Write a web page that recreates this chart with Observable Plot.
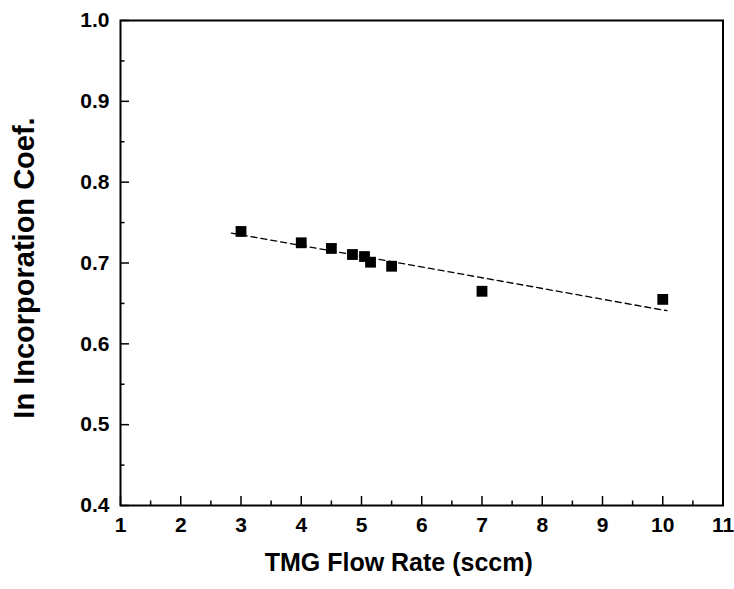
<!DOCTYPE html>
<html>
<head>
<meta charset="utf-8">
<script src="https://cdn.jsdelivr.net/npm/d3@7"></script>
<script src="https://cdn.jsdelivr.net/npm/@observablehq/plot@0.6"></script>
<style>
  html, body { margin: 0; padding: 0; background: #fff; }
  svg { font-family: "Liberation Sans", Arial, sans-serif; }
</style>
</head>
<body>
<div id="chart"></div>
<script>
// Measured data (TMG flow rate, In incorporation coefficient)
const flowRate = [3, 4, 4.5, 4.85, 5.05, 5.15, 5.5, 7, 10];
const inCoef   = [0.739, 0.725, 0.718, 0.7105, 0.708, 0.701, 0.696, 0.665, 0.655];

// Dashed fit line end points
const fitX = [2.84, 10.07];
const fitY = [0.737, 0.641];

// Axis ticks
const xMajor = [1, 2, 3, 4, 5, 6, 7, 8, 9, 10, 11];
const xMinor = [1.5, 2.5, 3.5, 4.5, 5.5, 6.5, 7.5, 8.5, 9.5, 10.5];
const yMajor = [0.4, 0.5, 0.6, 0.7, 0.8, 0.9, 1.0];
const yMinor = [0.45, 0.55, 0.65, 0.75, 0.85, 0.95];

const xTitle = "TMG Flow Rate (sccm)";
const yTitle = "In Incorporation Coef.";

const points = flowRate.map((x, i) => ({x, y: inCoef[i]}));
const fit = fitX.map((x, i) => ({x, y: fitY[i]}));

const chart = Plot.plot({
  width: 734,
  height: 589,
  marginLeft: 120,
  marginRight: 11.5,
  marginTop: 20,
  marginBottom: 84,
  style: {fontFamily: "'Liberation Sans', Arial, sans-serif", fontWeight: "bold", color: "#000", background: "#fff"},
  x: {domain: [1, 11]},
  y: {domain: [0.4, 1.0]},
  marks: [
    // minor ticks (inward)
    Plot.axisX({ticks: xMinor, tickSize: -4.5, tickFormat: () => "", label: null, strokeWidth: 1.5}),
    Plot.axisY({ticks: yMinor, tickSize: -4.5, tickFormat: () => "", label: null, strokeWidth: 1.5}),
    // major ticks (inward)
    Plot.axisX({ticks: xMajor, tickSize: -9, tickFormat: () => "", label: null, strokeWidth: 1.5}),
    Plot.axisY({ticks: yMajor, tickSize: -9, tickFormat: () => "", label: null, strokeWidth: 1.5}),
    // tick labels
    Plot.axisX({ticks: xMajor, tickSize: 0, tickPadding: 12, tickFormat: d3.format("d"), label: null, fontSize: 21, fontWeight: "bold"}),
    Plot.axisY({ticks: yMajor, tickSize: 0, tickPadding: 11, tickFormat: d3.format(".1f"), label: null, fontSize: 21, fontWeight: "bold"}),
    Plot.frame({stroke: "#000", strokeWidth: 2}),
    // fit line
    Plot.line(fit, {x: "x", y: "y", stroke: "#000", strokeWidth: 1.3, strokeDasharray: "6,4"}),
    // data squares
    Plot.dot(points, {x: "x", y: "y", symbol: "square", r: 6.1, fill: "#000", stroke: "none"}),
    // axis titles
    Plot.text([xTitle], {frameAnchor: "bottom", textAnchor: "middle", dx: -23, dy: 65, text: d => d, fontSize: 25, fontWeight: "bold", fill: "#000"}),
    Plot.text([yTitle], {frameAnchor: "left", textAnchor: "middle", dx: -96, dy: 5, rotate: -90, text: d => d, fontSize: 29, fontWeight: "bold", fill: "#000"})
  ]
});
document.getElementById("chart").appendChild(chart);
</script>
</body>
</html>
